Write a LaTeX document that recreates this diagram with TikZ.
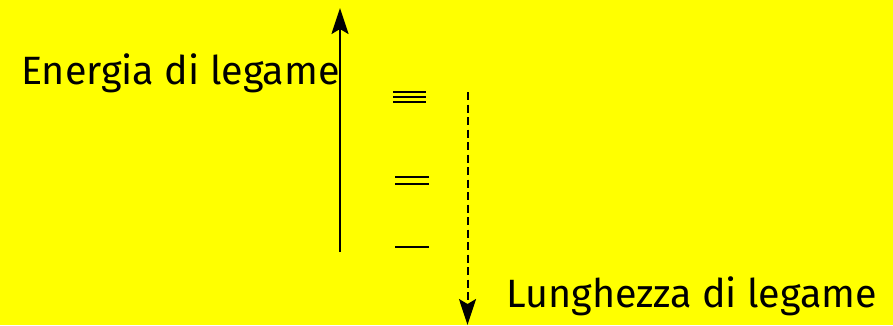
\documentclass[tikz,border=0pt]{standalone}
\usepackage{fontspec}
\setmainfont{Fira Sans}
\usetikzlibrary{arrows.meta}
\definecolor{bg}{RGB}{255,255,0}
\begin{document}
\begin{tikzpicture}[x=1pt,y=-1pt,
  axis/.style={line width=2.2pt,-{Stealth[length=26pt,width=17pt,inset=5pt]}},
  bond/.style={line width=2.3pt},
  lbl/.style={font=\fontsize{39.5}{42}\selectfont,inner sep=0pt}]
  \fill[bg] (0,0) rectangle (893,325);
  \useasboundingbox (0,0) rectangle (893,325);
  % energy axis
  \coordinate (eb) at (340,252);
  \coordinate (et) at (340,8);
  \draw[axis] (eb) -- (et);
  \node[lbl,anchor=base west] (el) at (21,84) {Energia di legame};
  % bond-length axis
  \coordinate (lt) at (467.5,92);
  \coordinate (lb) at (467.5,325);
  \draw[axis,line width=2pt,dash pattern=on 8pt off 4.5pt] (lt) -- (lb);
  \node[lbl,anchor=base west] (ll) at (506,307) {Lunghezza di legame};
  % triple bond
  \draw[bond] (393,92.3) -- (426,92.3);
  \draw[bond] (393,97) -- (426,97);
  \draw[bond] (393,101.7) -- (426,101.7);
  % double bond
  \draw[bond] (395,176.8) -- (429,176.8);
  \draw[bond] (395,184.3) -- (429,184.3);
  % single bond
  \draw[bond] (395,247.3) -- (429,247.3);
\end{tikzpicture}
\end{document}
